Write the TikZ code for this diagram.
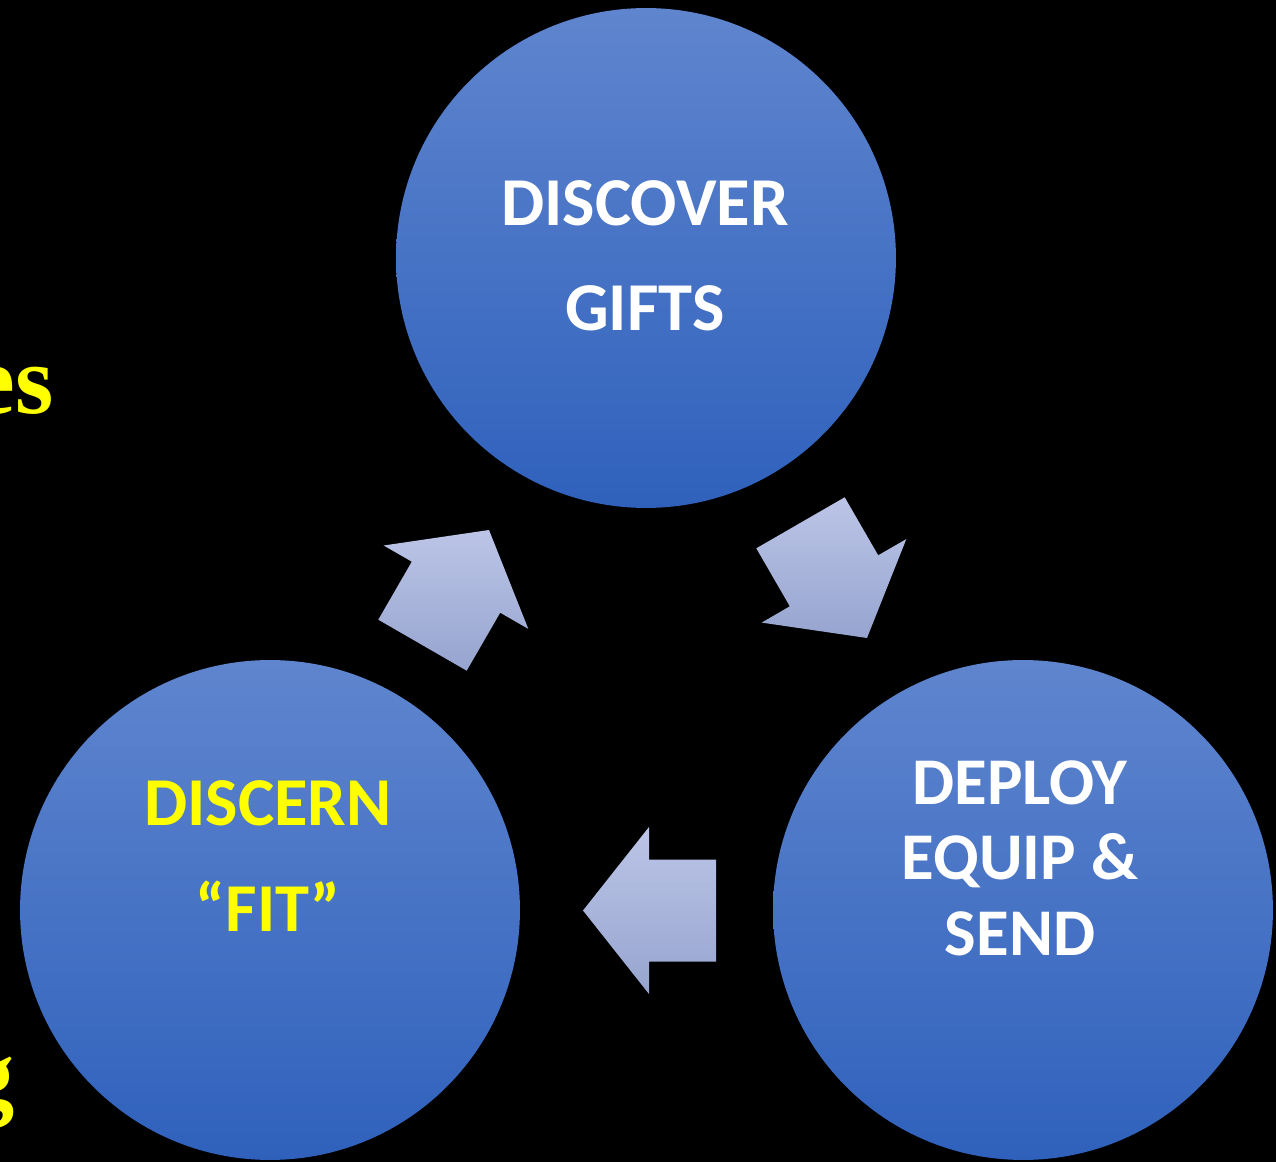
\documentclass[tikz,border=0pt]{standalone}
\usepackage{fontspec}
\setmainfont{Carlito}
\newfontfamily\timesfont{Liberation Serif}
\usepackage{tikz}
\definecolor{circtop}{RGB}{95,133,206}
\definecolor{circbot}{RGB}{47,97,188}
\definecolor{arrtop}{RGB}{188,197,231}
\definecolor{arrbot}{RGB}{150,164,207}
\definecolor{hilite}{RGB}{255,255,0}

\begin{document}
\begin{tikzpicture}[x=0.02cm, y=0.02cm]
        \tikzstyle{every node}+=[inner sep=0pt]
        \tikzstyle{stage}=[circle, minimum size=10cm, top color=circtop, bottom color=circbot]
        \tikzstyle{stagetext}=[align=center, text=white, font=\bfseries\fontsize{39}{60}\selectfont]
        \tikzstyle{sidetext}=[anchor=base east, text=hilite, font=\timesfont\bfseries\fontsize{56}{60}\selectfont]
        \tikzstyle{turn}=[top color=arrtop, bottom color=arrbot]
        \fill [black] (0,0) rectangle (1276,-1162);
        \useasboundingbox (0,0) rectangle (1276,-1162);
        \node [stage] (discover) at (646,-258) {};
        \node [stage] (discern) at (270,-910) {};
        \node [stage] (deploy) at (1023,-910) {};
        \node [stagetext] (discovertxt) at (645,-256) {DISCOVER\\GIFTS};
        \node [stagetext, text=hilite] (discerntxt) at (268,-856) {DISCERN\\“FIT”};
        \node [stagetext, font=\bfseries\fontsize{38}{43}\selectfont] (deploytxt) at (1020,-858) {DEPLOY\\EQUIP \&\\SEND};
        \node [sidetext] (sidetop) at (54,-414) {es};
        \node [sidetext] (sidebottom) at (15,-1107) {g};
        \shade [turn] (489,-530) -- (528.3,-628.9) -- (500.2,-612.7) -- (466.7,-670.7) -- (378.3,-619.7) -- (411.8,-561.7) -- (383.7,-545.5) -- cycle;
        \shade [turn] (867,-638) -- (906.3,-539.1) -- (878.2,-555.3) -- (844.7,-497.3) -- (756.3,-548.3) -- (789.8,-606.3) -- (761.7,-622.6) -- cycle;
        \shade [turn] (583,-910.5) -- (649,-994) -- (649,-961.5) -- (716,-961.5) -- (716,-859.5) -- (649,-859.5) -- (649,-827) -- cycle;
        \end{tikzpicture}
\end{document}
